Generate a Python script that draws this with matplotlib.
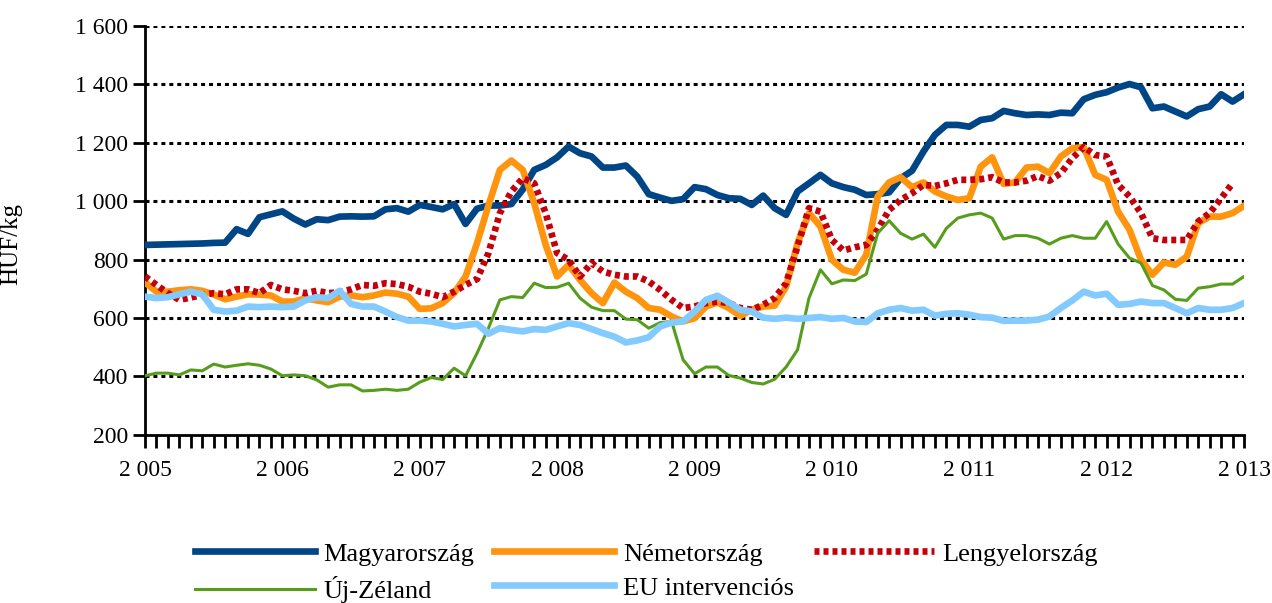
import numpy as np
import matplotlib.pyplot as plt
from matplotlib.ticker import FixedLocator, FuncFormatter

plt.rcParams['font.family'] = ['Liberation Serif', 'DejaVu Serif']

# havi adatok, 2005 jan. - 2013 jan. (HUF/kg)
magyarorszag = [850, 851, 852, 853, 854, 855, 857, 858, 904, 888,
                945, 955, 965, 940, 920, 938, 935, 947, 948, 947,
                948, 972, 976, 964, 987, 980, 972, 990, 922, 974,
                985, 985, 990, 1040, 1107, 1124, 1150, 1187, 1164, 1153,
                1115, 1115, 1122, 1084, 1024, 1012, 1001, 1007, 1048, 1041,
                1021, 1010, 1008, 987, 1019, 976, 953, 1033, 1061, 1090,
                1061, 1048, 1039, 1021, 1024, 1030, 1078, 1104, 1170, 1227,
                1261, 1261, 1255, 1278, 1284, 1309, 1301, 1295, 1297, 1295,
                1303, 1301, 1349, 1364, 1373, 1389, 1401, 1390, 1318, 1324,
                1307, 1290, 1315, 1324, 1366, 1341, 1366]
nemetorszag = [722, 690, 690, 695, 698, 693, 680, 664, 673, 681,
               680, 677, 656, 656, 667, 660, 654, 673, 677, 671,
               677, 687, 683, 673, 631, 633, 651, 685, 742, 856,
               985, 1107, 1139, 1107, 993, 850, 742, 782, 730, 685,
               651, 721, 690, 668, 634, 628, 605, 588, 599, 639,
               653, 634, 607, 628, 639, 642, 707, 856, 959, 913,
               799, 765, 755, 816, 1016, 1064, 1082, 1048, 1064, 1033,
               1016, 1004, 1010, 1118, 1150, 1059, 1064, 1115, 1118, 1096,
               1153, 1181, 1185, 1090, 1073, 964, 902, 799, 748, 790,
               782, 810, 925, 947, 947, 959, 984]
lengyelorszag = [742, 713, 685, 662, 670, 679, 685, 681, 698, 698,
                 685, 713, 698, 693, 685, 693, 685, 688, 698, 713,
                 710, 719, 716, 707, 690, 683, 671, 690, 713, 733,
                 822, 959, 1033, 1079, 1061, 959, 822, 799, 742, 788,
                 759, 748, 742, 742, 725, 696, 662, 634, 639, 651,
                 656, 651, 634, 628, 645, 668, 719, 845, 976, 964,
                 867, 831, 842, 850, 902, 970, 1004, 1027, 1056, 1052,
                 1061, 1073, 1073, 1075, 1082, 1064, 1064, 1070, 1086, 1070,
                 1096, 1147, 1185, 1158, 1153, 1056, 1016, 959, 873, 867,
                 867, 867, 930, 959, 1010, 1061, np.nan]
uj_zeland = [402, 411, 411, 405, 422, 419, 442, 432, 438, 443,
             438, 425, 402, 405, 402, 388, 363, 371, 371, 350,
             352, 356, 352, 356, 380, 396, 389, 428, 402, 479,
             565, 662, 673, 670, 719, 704, 705, 719, 668, 637,
             625, 625, 596, 594, 565, 584, 588, 457, 409, 432,
             432, 403, 394, 379, 374, 390, 432, 491, 668, 765,
             717, 730, 728, 750, 890, 933, 890, 870, 887, 842,
             907, 942, 953, 959, 942, 870, 882, 882, 873, 853,
             873, 882, 873, 873, 930, 853, 805, 788, 711, 696,
             664, 660, 702, 707, 716, 716, 742]
eu_intervencios = [673, 668, 671, 681, 690, 681, 628, 622, 625, 639,
                   637, 639, 637, 639, 660, 671, 668, 693, 648, 639,
                   639, 622, 603, 591, 591, 588, 580, 571, 576, 580,
                   546, 565, 559, 554, 562, 559, 571, 582, 576, 562,
                   548, 536, 516, 523, 534, 571, 584, 588, 622, 662,
                   676, 653, 628, 622, 601, 597, 601, 597, 600, 603,
                   597, 600, 588, 586, 616, 628, 634, 625, 628, 608,
                   614, 616, 611, 603, 601, 590, 591, 591, 594, 605,
                   634, 660, 690, 677, 683, 645, 648, 656, 651, 651,
                   634, 616, 634, 628, 628, 634, 651]

honapok = 2005 + np.arange(len(magyarorszag)) / 12
evek = list(range(2005, 2014))
y_ticks = [200, 400, 600, 800, 1000, 1200, 1400, 1600]

fig = plt.figure(figsize=(12.72, 6.03), dpi=100)
ax = fig.add_axes([0.114, 0.279, 0.864, 0.678])

for y in y_ticks[1:]:
    ax.axhline(y, color='black', linewidth=2.2, linestyle=(0, (1.3, 1.3)), zorder=1)

ax.plot(honapok, magyarorszag, color='#004586', linewidth=4.8, label='Magyarország', zorder=3)
ax.plot(honapok, nemetorszag, color='#FF950E', linewidth=4.8, label='Németország', zorder=3)
ax.plot(honapok, lengyelorszag, color='#C5000B', linewidth=4.8, linestyle=(0, (0.75, 0.6)),
        dash_capstyle='butt', label='Lengyelország', zorder=3)
ax.plot(honapok, uj_zeland, color='#579D1C', linewidth=2.2, label='Új-Zéland', zorder=3)
ax.plot(honapok, eu_intervencios, color='#83CAFF', linewidth=4.8, label='EU intervenciós', zorder=3)

ax.set_xlim(2005, 2013)
ax.set_ylim(200, 1600)
ax.xaxis.set_major_locator(FixedLocator(evek))
ax.xaxis.set_minor_locator(FixedLocator(2005 + np.arange(97) / 12))
ax.yaxis.set_major_locator(FixedLocator(y_ticks))

szokoz = lambda v, pos: f'{int(round(v)):,}'.replace(',', ' ')
ax.xaxis.set_major_formatter(FuncFormatter(szokoz))
ax.yaxis.set_major_formatter(FuncFormatter(szokoz))

for s in ['top', 'right']:
    ax.spines[s].set_visible(False)
for s in ['left', 'bottom']:
    ax.spines[s].set_linewidth(2)
ax.tick_params(axis='x', which='both', direction='out', length=9, width=2, labelsize=17, pad=9)
ax.tick_params(axis='y', direction='out', length=9, width=2, labelsize=17, pad=3)
ax.set_ylabel('HUF/kg', fontsize=18)
ax.yaxis.set_label_coords(-0.112, 0.467)

h, l = ax.get_legend_handles_labels()
order = [0, 3, 1, 4, 2]
fig.legend([h[i] for i in order], [l[i] for i in order], loc='upper left',
           bbox_to_anchor=(0.153, 0.101), ncol=3, frameon=False, fontsize=19,
           handlelength=4.55, handletextpad=0.33, columnspacing=0.75, labelspacing=0.4,
           borderaxespad=0, borderpad=0)

plt.savefig('out.png', dpi=100)
